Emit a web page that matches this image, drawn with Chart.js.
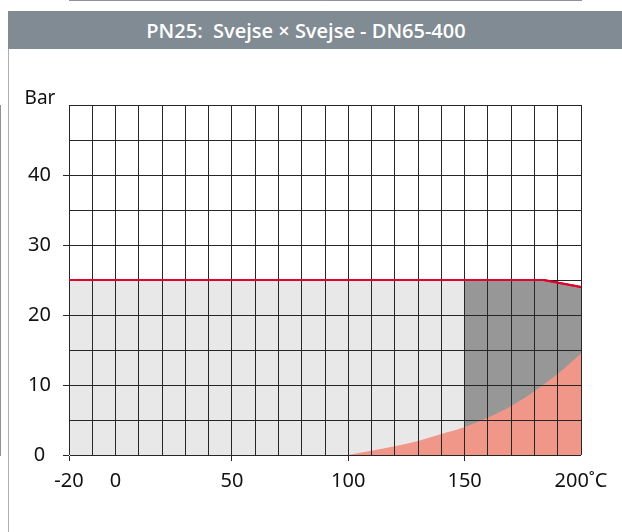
<!DOCTYPE html>
<html>
<head>
<meta charset="utf-8">
<title>PN25: Svejse × Svejse - DN65-400</title>
<script src="https://cdn.jsdelivr.net/npm/chart.js@4/dist/chart.umd.min.js"></script>
<style>
  body { margin: 0; background: #fff; }
  #wrap { position: relative; width: 622px; height: 532px; overflow: hidden; background: #fff; }
  #panel {
    position: absolute; left: 8px; top: 11px; right: 0; bottom: 0;
    border-left: 1px solid #a9b0b6;
  }
  #header {
    height: 38px; background: #808b94; color: #fff;
    font: 600 20px "Open Sans", sans-serif;
    display: flex; align-items: center; justify-content: center;
    padding-right: 18px; margin-left: -1px;
    white-space: pre;
  }
  #chart { position: absolute; left: 0; top: 0; }
</style>
</head>
<body>
<div id="wrap">
  <div id="panel">
    <div id="header">PN25:  Svejse × Svejse - DN65-400</div>
  </div>
  <canvas id="chart" width="622" height="532"></canvas>
</div>
<script>
// Chart values
const xTickLabels = [-20, 0, 50, 100, 150, 200];
const yTickLabels = [0, 10, 20, 30, 40];

// pressure limit (red line)
const limitTemps = [-20, 184, 200];
const limitBar = [25, 25, 24];

// light grey area (below the limit, up to 150 °C)
const lowTemps = [-20, 150];
const lowBar = [25, 25];

// dark grey area (150 - 200 °C, below the limit)
const highTemps = [150, 184, 200];
const highBar = [25, 25, 24];

// salmon area (steam curve)
const steamTemps = [100, 110, 120, 130, 140, 150, 160, 170, 180, 190, 200];
const steamBar = [0, 0.6, 1.25, 2.0, 3.0, 4.0, 5.35, 7.0, 9.1, 11.6, 14.5];

const FONT = '"Noto Sans", sans-serif';
const GRID = '#262626';
const xTickMarks = [-20, 50, 100, 150];

// Zip two arrays into {x, y} points
const toPoints = (xs, ys) => xs.map((x, i) => ({ x: x, y: ys[i] }));

// Draws the "Bar" unit and puts the red limit line back on top of the grid
const overlay = {
    id: 'overlay',
    afterDraw: (chart) => {
        chart.getDatasetMeta(0).controller.draw();

        const ctx = chart.ctx;
        ctx.save();
        ctx.font = '19px ' + FONT;
        ctx.fillStyle = '#111';
        ctx.textAlign = 'center';
        ctx.textBaseline = 'alphabetic';
        ctx.fillText('Bar', 40, 104);
        ctx.restore();
    }
};

const setup = () => {
    const ctx = document.getElementById('chart').getContext('2d');

    new Chart(ctx, {
        type: 'line',
        data: {
            datasets: [
                {
                    label: 'limit',
                    data: toPoints(limitTemps, limitBar),
                    borderColor: '#e2002b',
                    borderWidth: 2,
                    pointRadius: 0,
                    fill: false,
                    order: 0
                },
                {
                    label: 'steam',
                    data: toPoints(steamTemps, steamBar),
                    borderWidth: 0,
                    borderColor: 'transparent',
                    backgroundColor: '#f09789',
                    pointRadius: 0,
                    cubicInterpolationMode: 'monotone',
                    fill: 'origin',
                    order: 1
                },
                {
                    label: 'high',
                    data: toPoints(highTemps, highBar),
                    borderWidth: 0,
                    borderColor: 'transparent',
                    backgroundColor: '#979797',
                    pointRadius: 0,
                    fill: 'origin',
                    order: 2
                },
                {
                    label: 'low',
                    data: toPoints(lowTemps, lowBar),
                    borderWidth: 0,
                    borderColor: 'transparent',
                    backgroundColor: '#e8e8e8',
                    pointRadius: 0,
                    fill: 'origin',
                    order: 3
                }
            ]
        },
        options: {
            responsive: false,
            devicePixelRatio: 1,
            animation: false,
            layout: { padding: { left: 0, top: 105, right: 41, bottom: 0 } },
            plugins: {
                legend: { display: false },
                tooltip: { enabled: false },
                title: { display: false }
            },
            scales: {
                x: {
                    type: 'linear',
                    min: -20,
                    max: 200,
                    afterFit: (scale) => { scale.height = 77; },
                    border: { display: true, color: GRID, width: 1 },
                    grid: {
                        z: 1,
                        color: GRID,
                        lineWidth: 1,
                        tickLength: 6,
                        tickColor: (c) => (c.tick && xTickMarks.includes(c.tick.value)) ? GRID : 'transparent'
                    },
                    ticks: {
                        stepSize: 10,
                        autoSkip: false,
                        maxRotation: 0,
                        padding: 8,
                        color: '#111',
                        font: { family: FONT, size: 20 },
                        callback: (v) => {
                            if (!xTickLabels.includes(v)) return '';
                            return v === 200 ? '200˚C' : String(v);
                        }
                    }
                },
                y: {
                    min: 0,
                    max: 50,
                    afterFit: (scale) => { scale.width = 69; },
                    border: { display: true, color: GRID, width: 1 },
                    grid: {
                        z: 1,
                        color: GRID,
                        lineWidth: 1,
                        tickLength: 6,
                        tickColor: (c) => (c.tick && yTickLabels.includes(c.tick.value)) ? GRID : 'transparent'
                    },
                    ticks: {
                        stepSize: 5,
                        autoSkip: false,
                        crossAlign: 'center',
                        padding: 12,
                        color: '#111',
                        font: { family: FONT, size: 20 },
                        callback: (v) => yTickLabels.includes(v) ? String(v) : ''
                    }
                }
            }
        },
        plugins: [overlay]
    });
};

document.addEventListener('DOMContentLoaded', setup);
</script>
</body>
</html>
